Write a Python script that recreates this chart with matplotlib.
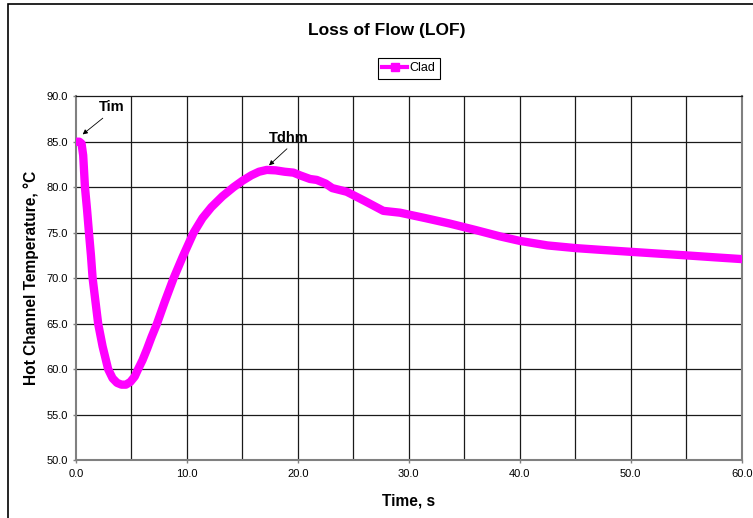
import matplotlib.pyplot as plt
from matplotlib.lines import Line2D
from matplotlib.patches import Rectangle
import numpy as np

plt.rcParams['font.family'] = ['Liberation Sans', 'DejaVu Sans']

# time (s) and hot channel clad temperature (C)
time = [0.0, 0.3, 0.5, 0.65, 0.81, 1.0, 1.17, 1.35, 1.5, 1.75, 2.0, 2.4, 2.9, 3.3, 3.7,
        4.1, 4.5, 4.9, 5.3, 5.6, 6.0, 6.4, 6.8, 7.3, 8.0, 8.8, 9.6, 10.6, 11.4, 12.2,
        13.2, 14.2, 15.0, 15.8, 16.5, 17.2, 18.0, 18.8, 19.6, 20.2, 21.1, 21.7, 22.5,
        23.1, 24.4, 26.0, 27.7, 29.2, 31.5, 33.7, 36.0, 38.2, 40.0, 42.5, 45.1, 47.5,
        50.0, 52.5, 55.1, 57.5, 60.0]
clad = [85.0, 85.0, 84.8, 83.5, 80.0, 77.5, 75.0, 72.5, 70.0, 67.5, 65.0, 62.5, 60.0,
        59.0, 58.5, 58.3, 58.3, 58.6, 59.2, 60.0, 61.0, 62.2, 63.5, 65.0, 67.4, 70.0,
        72.3, 75.0, 76.6, 77.8, 79.0, 80.0, 80.7, 81.3, 81.7, 81.9, 81.85, 81.7, 81.6,
        81.3, 80.9, 80.8, 80.4, 79.9, 79.5, 78.5, 77.4, 77.2, 76.6, 76.0, 75.3, 74.6,
        74.1, 73.6, 73.3, 73.1, 72.9, 72.7, 72.5, 72.3, 72.1]

x_ticks = [0, 10, 20, 30, 40, 50, 60]
y_ticks = [50, 55, 60, 65, 70, 75, 80, 85, 90]

fig = plt.figure(figsize=(7.53, 5.18), dpi=100)
ax = fig.add_axes([0.1009, 0.1116, 0.884, 0.7027])

# grid every 5 in both directions
for g in np.arange(5, 60, 5):
    ax.axvline(g, color='#1a1a1a', lw=0.9, zorder=1)
for g in y_ticks[1:-1]:
    ax.axhline(g, color='#1a1a1a', lw=0.9, zorder=1)

ax.plot(time, clad, color='#ff00ff', lw=6, solid_joinstyle='round', zorder=3)

ax.set_xlim(0, 60)
ax.set_ylim(50, 90)
ax.set_xticks(x_ticks)
ax.set_xticklabels(['%.1f' % v for v in x_ticks])
ax.set_yticks(y_ticks)
ax.set_yticklabels(['%.1f' % v for v in y_ticks])
ax.tick_params(direction='out', length=2.5, width=1, color='#808080',
               labelsize=8, pad=3.5)

for s in ['left', 'bottom', 'right']:
    ax.spines[s].set_color('#808080')
    ax.spines[s].set_linewidth(1.5)
ax.spines['top'].set_color('#1a1a1a')
ax.spines['top'].set_linewidth(0.9)

ax.set_xlabel('Time, s', fontsize=11.2, fontweight='bold', labelpad=11)
ax.set_ylabel('Hot Channel Temperature, \u00b0C', fontsize=11.2, fontweight='bold', labelpad=5)

ax.annotate('Tim', xy=(0.6, 85.8), xytext=(3.2, 88.85), fontsize=10.5, fontweight='bold',
            ha='center', va='center',
            arrowprops=dict(arrowstyle='-|>', color='black', lw=0.6, mutation_scale=7,
                            relpos=(0.38, 0), shrinkA=2, shrinkB=0))
ax.annotate('Tdhm', xy=(17.4, 82.4), xytext=(19.2, 85.4), fontsize=10.5, fontweight='bold',
            ha='center', va='center',
            arrowprops=dict(arrowstyle='-|>', color='black', lw=0.6, mutation_scale=7,
                            relpos=(0.55, 0), shrinkA=1, shrinkB=0))

fig.text(0.513, 0.942, 'Loss of Flow (LOF)', fontsize=12.5, fontweight='bold',
         ha='center', va='center')

handle = Line2D([], [], color='#ff00ff', lw=3, marker='s', markersize=6)
leg = fig.legend([handle], ['Clad'], loc='upper center', bbox_to_anchor=(0.543, 0.888),
                 fontsize=9, fancybox=False, edgecolor='black', framealpha=1,
                 handlelength=2.0, handletextpad=0.2, borderpad=0.35, borderaxespad=0)
leg.get_frame().set_linewidth(0.8)

# chart area border
fig.add_artist(Rectangle((8 / 753, -0.05), 1.1, 1 - 3.5 / 518 + 0.05,
                         transform=fig.transFigure, fill=False, ec='black', lw=1.2))

plt.savefig('out.png', dpi=100)
